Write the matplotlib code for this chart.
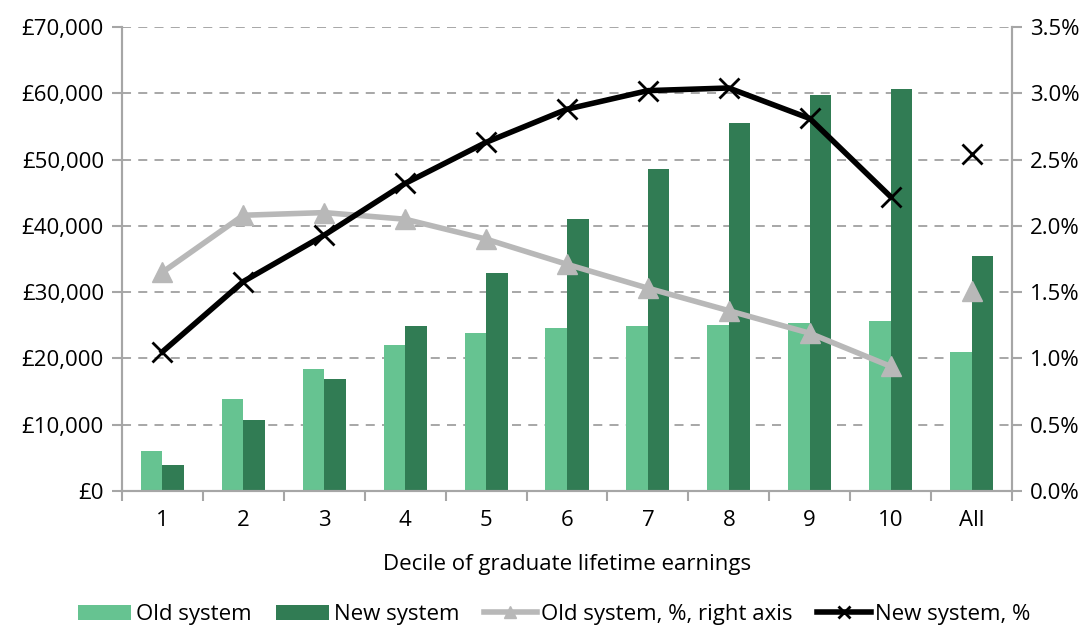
import matplotlib.pyplot as plt
import matplotlib as mpl
import numpy as np
from matplotlib.ticker import FuncFormatter, MultipleLocator

categories = ['1', '2', '3', '4', '5', '6', '7', '8', '9', '10', 'All']
old_system = [6000, 13900, 18400, 22000, 23800, 24600, 24900, 25000, 25300, 25600, 21000]
new_system = [3900, 10700, 16900, 24900, 32900, 41000, 48600, 55500, 59700, 60600, 35400]
old_pct = [1.65, 2.08, 2.10, 2.05, 1.90, 1.71, 1.53, 1.36, 1.19, 0.94, 1.51]
new_pct = [1.05, 1.58, 1.93, 2.32, 2.63, 2.88, 3.02, 3.04, 2.81, 2.22, 2.54]

mpl.rcParams['font.family'] = ['Open Sans', 'DejaVu Sans']
mpl.rcParams['font.size'] = 16

light_green = '#66c391'
dark_green = '#317c54'
grey_line = '#b8b8b8'
axis_grey = '#a6a6a6'

fig = plt.figure(figsize=(10.87, 6.31), dpi=100)
ax = fig.add_axes([0.1122, 0.2219, 0.8188, 0.7353])
ax2 = ax.twinx()

x = np.arange(len(categories))
w = 0.266
ax.bar(x - w / 2, old_system, w, color=light_green, label='Old system', zorder=2)
ax.bar(x + w / 2, new_system, w, color=dark_green, label='New system', zorder=2)

n = 10
ax2.plot(x[:n], old_pct[:n], color=grey_line, lw=4, marker='^', ms=14,
         label='Old system, %, right axis', zorder=3)
ax2.plot(x[n:], old_pct[n:], color=grey_line, lw=0, marker='^', ms=14, zorder=3)
ax2.plot(x[:n], new_pct[:n], color='black', lw=4, marker='x', ms=15, mew=2,
         label='New system, %', zorder=4)
ax2.plot(x[n:], new_pct[n:], color='black', lw=0, marker='x', ms=15, mew=2, zorder=4)

ax.set_xlim(-0.5, len(categories) - 0.5)
ax.set_ylim(0, 70000)
ax2.set_ylim(0, 3.5)
ax.yaxis.set_major_locator(MultipleLocator(10000))
ax2.yaxis.set_major_locator(MultipleLocator(0.5))
ax.yaxis.set_major_formatter(FuncFormatter(lambda v, p: '£{:,.0f}'.format(v)))
ax2.yaxis.set_major_formatter(FuncFormatter(lambda v, p: '{:.1f}%'.format(v)))

ax.set_xticks(x)
ax.set_xticklabels(categories)
ax.set_xticks(np.arange(len(categories) + 1) - 0.5, minor=True)
ax.tick_params(axis='x', which='major', length=0, pad=14)
ax.tick_params(axis='x', which='minor', length=7, color=axis_grey, width=1.5)
ax.tick_params(axis='y', length=7, color=axis_grey, width=1.5, pad=6)
ax2.tick_params(axis='y', length=7, color=axis_grey, width=1.5, pad=6)

ax.grid(axis='y', color='#a0a0a0', linestyle=(0, (5, 4)), lw=1.3, zorder=0)
ax.set_axisbelow(True)

for a in (ax, ax2):
    a.spines['top'].set_visible(False)
    for s in ('left', 'right', 'bottom'):
        a.spines[s].set_color(axis_grey)
        a.spines[s].set_linewidth(1.5)

ax.set_xlabel('Decile of graduate lifetime earnings', labelpad=16)

h1, l1 = ax.get_legend_handles_labels()
h2, l2 = ax2.get_legend_handles_labels()
fig.legend(h1 + h2, l1 + l2, loc='center', bbox_to_anchor=(0.51, 0.026), ncol=4,
           frameon=False, handlelength=2.4, handletextpad=0.2, columnspacing=1.1,
           handleheight=0.7, markerscale=0.6, borderpad=0)

fig.savefig('out.png', dpi=100)
